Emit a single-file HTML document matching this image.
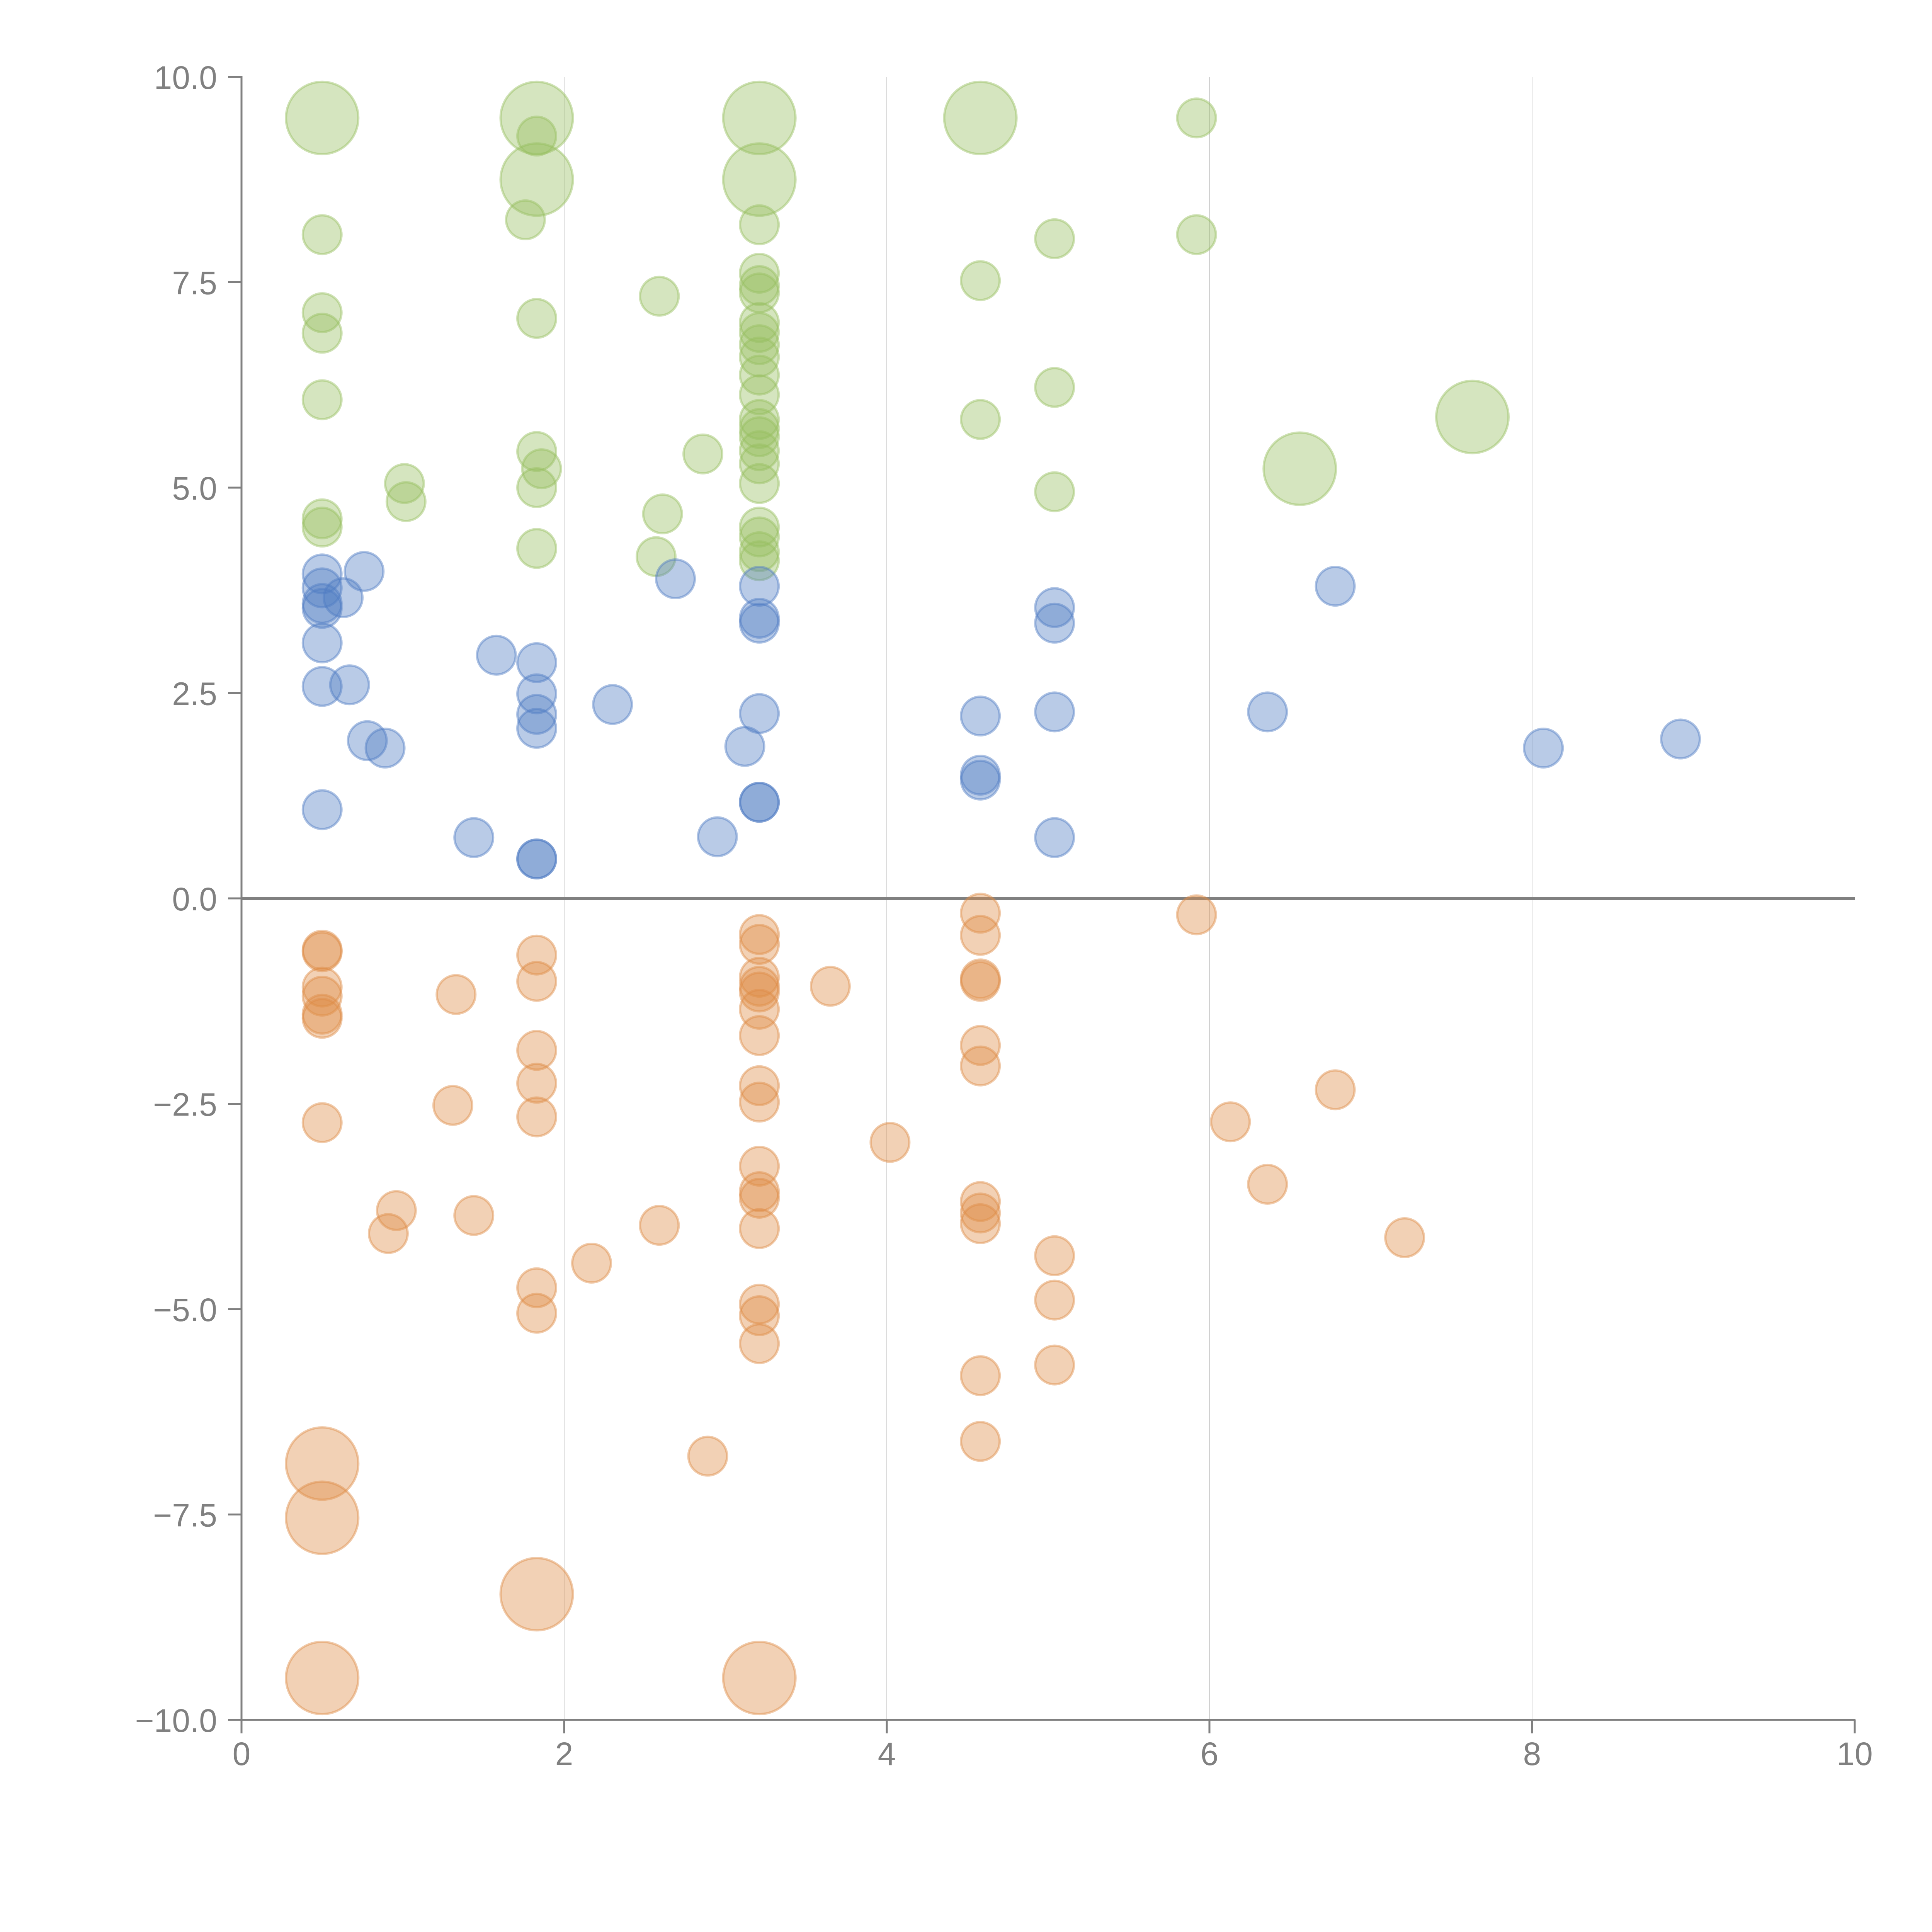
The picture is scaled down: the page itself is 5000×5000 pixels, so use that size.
<!DOCTYPE html>
<html><head><meta charset="utf-8">
<style>
html,body{margin:0;padding:0;background:#fff;}
svg{display:block;font-family:"Liberation Sans",Arial,sans-serif;}
</style></head>
<body>
<svg id="chart" width="5000" height="5000" viewBox="0 0 5000 5000" xmlns="http://www.w3.org/2000/svg">
<g id="grid"></g>
<g id="axes"></g>
<g id="marks"></g>
</svg>
<script>
const xTicks = [0, 2, 4, 6, 8, 10];
const xTickLabels = ["0", "2", "4", "6", "8", "10"];
const yTicks = [-10, -7.5, -5, -2.5, 0, 2.5, 5, 7.5, 10];
const yTickLabels = ["\u221210.0", "\u22127.5", "\u22125.0", "\u22122.5", "0.0", "2.5", "5.0", "7.5", "10.0"];

const greenX = [0.50,1.83,1.83,3.21,3.21,4.58,5.92,0.50,1.83,1.76,3.21,5.04,5.92,0.50,0.50,1.83,2.59,3.21,3.21,3.21,3.21,3.21,3.21,3.21,3.21,3.21,3.21,3.21,3.21,3.21,3.21,3.21,3.21,3.21,3.21,3.21,4.58,0.50,5.04,4.58,7.63,6.56,1.83,1.86,1.83,1.83,2.86,1.01,1.02,2.61,2.57,0.50,0.50,5.04];
const greenY = [9.50,9.50,8.75,9.50,8.75,9.50,9.50,8.08,9.28,8.26,8.20,8.03,8.08,7.13,6.88,7.06,7.33,7.61,7.46,7.37,7.01,6.89,6.74,6.59,6.37,6.13,5.83,5.72,5.62,5.45,5.29,5.05,4.52,4.40,4.22,4.11,7.52,6.07,6.22,5.83,5.86,5.23,5.44,5.23,5.00,4.26,5.41,5.05,4.83,4.68,4.16,4.62,4.52,4.95];
const greenS = [3.5,3.5,3.5,3.5,3.5,3.5,1,1,1,1,1,1,1,1,1,1,1,1,1,1,1,1,1,1,1,1,1,1,1,1,1,1,1,1,1,1,1,1,1,1,3.5,3.5,1,1,1,1,1,1,1,1,1,1,1,1];

const blueX = [0.50,0.50,0.50,0.50,0.50,0.50,0.50,0.76,0.63,0.67,0.78,0.89,1.58,1.44,1.83,1.83,1.83,1.83,1.83,1.83,2.30,2.69,3.21,3.21,3.21,3.21,3.21,3.21,3.12,2.95,4.58,4.58,4.58,5.04,5.04,5.04,5.04,6.36,6.78,8.07,8.92];
const blueY = [3.95,3.78,3.59,3.53,3.11,2.58,1.08,3.98,3.66,2.60,1.92,1.83,2.96,0.74,2.87,2.49,2.24,2.07,0.48,0.48,2.36,3.89,3.80,3.41,3.35,2.25,1.17,1.17,1.85,0.75,2.22,1.50,1.44,3.54,3.35,2.27,0.74,2.27,3.80,1.83,1.94];
const blueS = blueX.map(() => 1);

const orangeX = [0.50,0.50,0.50,0.50,0.50,0.50,0.50,0.50,0.50,0.50,1.33,1.31,0.96,0.91,1.44,1.83,1.83,1.83,1.83,1.83,1.83,1.83,1.83,2.17,2.59,2.89,3.21,3.21,3.21,3.21,3.21,3.21,3.21,3.21,3.21,3.21,3.21,3.21,3.21,3.21,3.21,3.21,3.21,3.65,4.02,4.58,4.58,4.58,4.58,4.58,4.58,4.58,4.58,4.58,4.58,4.58,5.04,5.04,5.04,5.92,6.13,6.36,6.78,7.21];
const orangeY = [-0.63,-0.65,-1.08,-1.19,-1.41,-1.46,-2.73,-6.88,-7.54,-9.49,-1.17,-2.52,-3.80,-4.08,-3.86,-0.69,-1.01,-1.85,-2.25,-2.66,-4.74,-5.05,-8.47,-4.44,-3.98,-6.79,-0.44,-0.56,-0.96,-1.07,-1.14,-1.35,-1.67,-2.28,-2.48,-3.26,-3.57,-3.65,-4.02,-4.94,-5.08,-5.42,-9.49,-1.07,-2.97,-0.18,-0.45,-0.98,-1.01,-1.79,-2.04,-3.69,-3.83,-3.96,-5.81,-6.61,-4.35,-4.89,-5.68,-0.20,-2.72,-3.48,-2.33,-4.13];
const orangeS = [1,1,1,1,1,1,1,3.5,3.5,3.5,1,1,1,1,1,1,1,1,1,1,1,1,3.5,1,1,1,1,1,1,1,1,1,1,1,1,1,1,1,1,1,1,1,3.5,1,1,1,1,1,1,1,1,1,1,1,1,1,1,1,1,1,1,1,1,1];

const X0 = 625, X1 = 4800, Y0 = 4451, Y1 = 199;
function xs(v){ return X0 + (v - 0) / 10 * (X1 - X0); }
function ys(v){ return Y0 - (v + 10) / 20 * (Y0 - Y1); }
function rs(s){ return 50 * Math.sqrt(s); }

const NS = "http://www.w3.org/2000/svg";
function mk(tag, attrs, parent){
  const e = document.createElementNS(NS, tag);
  for (const k in attrs) e.setAttribute(k, attrs[k]);
  parent.appendChild(e);
  return e;
}
const grid = document.getElementById('grid');
const axes = document.getElementById('axes');
const marks = document.getElementById('marks');

xTicks.forEach((t, i) => {
  if (t > 0 && t < 10) {
    const g = mk('line', {x1: xs(t), x2: xs(t), y1: Y1, y2: Y0, stroke: '#d0d0d0', 'stroke-width': 2}, grid);
    
    
  }
  const tk = mk('line', {x1: xs(t), x2: xs(t), y1: Y0, y2: Y0 + 35, stroke: '#808080', 'stroke-width': 5}, axes);
  
  
  const lb = mk('text', {x: xs(t), y: Y0 + 117, 'text-anchor': 'middle', 'font-size': 84, fill: '#808080'}, axes);
  lb.textContent = xTickLabels[i];
  
  
});
yTicks.forEach((t, i) => {
  const tk = mk('line', {x1: X0 - 35, x2: X0, y1: ys(t), y2: ys(t), stroke: '#808080', 'stroke-width': 5}, axes);
  
  
  const lb = mk('text', {x: X0 - 63, y: ys(t) + 31, 'text-anchor': 'end', 'font-size': 84, fill: '#808080'}, axes);
  lb.textContent = yTickLabels[i];
  
  
});
const spineL = mk('line', {x1: X0, x2: X0, y1: Y1 - 2, y2: Y0 + 35, stroke: '#808080', 'stroke-width': 5}, axes);


const spineB = mk('line', {x1: X0 - 2, x2: X1 + 2, y1: Y0, y2: Y0, stroke: '#808080', 'stroke-width': 5}, axes);



function series(xa, ya, sa, color, name){
  xa.forEach((v, i) => {
    const c = mk('circle', {cx: xs(v), cy: ys(ya[i]), r: rs(sa[i]), fill: color, 'fill-opacity': 0.4, stroke: color, 'stroke-opacity': 0.45, 'stroke-width': 6}, marks);
    
    
  });
}
series(greenX, greenY, greenS, 'rgb(150,190,95)', 'green-bubble');
series(blueX, blueY, blueS, 'rgb(80,125,195)', 'blue-bubble');
series(orangeX, orangeY, orangeS, 'rgb(222,140,70)', 'orange-bubble');

const zl = mk('line', {x1: X0, x2: X1, y1: ys(0), y2: ys(0), stroke: '#808080', 'stroke-width': 8}, axes);


</script>
</body></html>
